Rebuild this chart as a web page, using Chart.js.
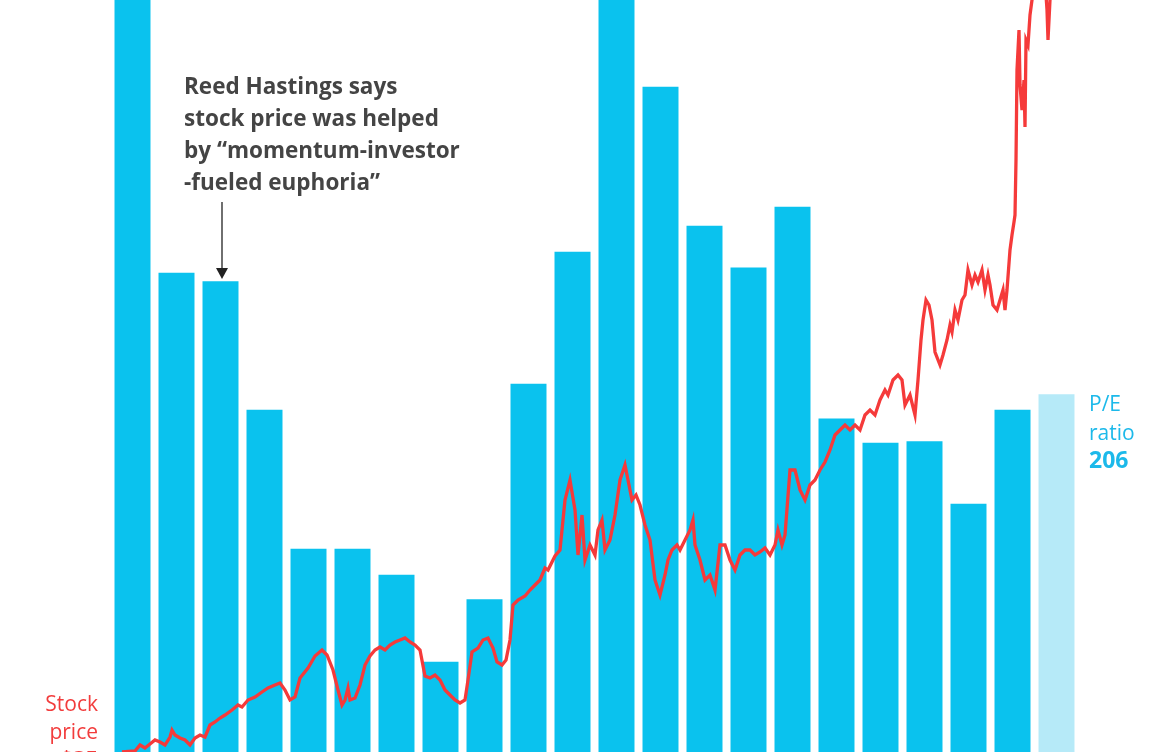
<!DOCTYPE html>
<html><head><meta charset="utf-8">
<script src="https://cdn.jsdelivr.net/npm/chart.js@4"></script>
<style>html,body{margin:0;padding:0;background:#fff;overflow:hidden}#w{width:1170px;height:752px}</style>
</head><body><div id="w"><canvas id="c"></canvas></div>
<script>
const categories = Array.from({length:22},(_,i)=>'P'+(i+1));
const peRatio = [500,276,271,197,117,117,102,52,88,212,288,500,383,303,279,314,192,178,179,143,197,206];
const priceDay = [12,25,30,35,40,45,50,55,60,62,65,70,75,80,85,90,95,100,105,110,115,122,128,132,138,145,152,158,165,170,175,180,185,190,198,205,212,217,223,228,232,235,238,240,245,250,255,260,265,270,275,280,285,290,295,300,305,310,315,320,325,330,335,340,345,350,355,358,362,368,373,378,383,387,392,396,400,403,408,415,420,425,430,435,438,445,450,455,460,465,468,472,475,480,485,488,492,495,500,505,510,515,518,522,526,530,535,540,545,550,555,558,562,567,570,575,580,583,585,590,595,600,605,610,615,620,625,630,635,640,645,650,655,660,665,668,672,675,680,685,690,695,700,705,710,715,720,725,730,735,740,745,750,755,760,765,770,775,778,783,788,792,795,800,805,808,811,813,816,819,822,825,830,833,837,840,842,845,848,852,855,858,862,865,868,872,875,878,880,883,887,890,893,895,897,900,902,904,905,906,907,909,910,912,914,915,916,918,920,922,925,935,937,938,940,942];
const priceVal = [35,35.5,38.5,37,39,41,40,38.5,42.5,46,43.5,42,41,38.5,42,43.5,42.5,48.5,50,52,53.5,56,58.5,57.5,61,62.5,65,67,68.5,69.5,66,61,62.5,72,77,83,86,83.5,76,66,58.5,61,67,61,62,68.5,78.5,83,86,87.5,86,88.5,90,91,92,90,88.5,86,73,72,73.5,71,66,63.5,61,59.5,61,71,85,87,91,92,87,80,78.5,81,91,108.5,111,113,116,118.5,121,127,126,133,136,161,171,156,133.5,153.5,131,138.5,133.5,146,151,136,141,153.5,171,178.5,171,161,163.5,158.5,148.5,141,121,113.5,123.5,131,136,138.5,136,141,146,151,138.5,131,121,123.5,116,138.5,138.5,131,126,133.5,136,136,133.5,135,137,133.5,138.5,146,138.5,143.5,176,176,166,161,168.5,171,176,180,186,193.5,196,198.5,196,198.5,196,203.5,206,203.5,211,216,213.5,221,223.5,221,208.5,213.5,203.5,221,241,251,261,258.5,251,235,228.5,233.5,241,248.5,245,256,251,261,263.5,276,268.5,273.5,270,276,266,273.5,268.5,258.5,256,261,266,256,266,286,293.5,300,303.5,331,376,396,368.5,356,371,347.5,391,388.5,403.5,411,416,421,406,391,411,416];
const barColors = peRatio.map((v,i)=> i===peRatio.length-1 ? '#b6eaf8' : '#0ac2ee');

const textPlugin = {id:'txt', afterDraw(ch){
  const c=ch.ctx; c.save();
  c.fillStyle='#444'; c.font='bold 22.5px "Open Sans", Roboto, sans-serif'; c.textBaseline='alphabetic'; c.textAlign='left';
  ['Reed Hastings says','stock price was helped','by “momentum-investor','-fueled euphoria”'].forEach((t,i)=>c.fillText(t,184,94+i*32));
  c.strokeStyle='#222'; c.lineWidth=1.3; c.beginPath(); c.moveTo(222,202); c.lineTo(222,276); c.stroke();
  c.fillStyle='#222'; c.beginPath(); c.moveTo(216,268); c.lineTo(228,268); c.lineTo(222,279); c.closePath(); c.fill();
  c.textAlign='right'; c.fillStyle='#f23c3c'; c.font='21px "Open Sans", sans-serif';
  c.fillText('Stock',98,711); c.fillText('price',98,739);
  c.font='bold 22px "Open Sans", sans-serif'; c.fillText('$35',98,766);
  c.textAlign='left'; c.fillStyle='#1cb9ea'; c.font='21px "Open Sans", sans-serif';
  c.fillText('P/E',1089,411); c.fillText('ratio',1089,440);
  c.font='bold 23px "Open Sans", sans-serif'; c.fillText('206',1089,468);
  c.restore();
}};

new Chart(document.getElementById('c'),{
  data:{labels:categories,datasets:[
    {type:'line',data:priceDay.map((d,i)=>({x:d,y:priceVal[i]})),xAxisID:'x2',yAxisID:'y2',borderColor:'#f53a3a',borderWidth:3.3,pointRadius:0,tension:0,order:0},
    {type:'bar',data:peRatio,backgroundColor:barColors,grouped:false,categoryPercentage:1,barPercentage:0.818,xAxisID:'x',yAxisID:'y',order:1}
  ]},
  options:{responsive:true,maintainAspectRatio:false,animation:false,
    layout:{padding:{left:110.5,right:91.5,top:0,bottom:0}},
    plugins:{legend:{display:false},tooltip:{enabled:false}},
    scales:{
      x:{display:false,offset:true},
      x2:{type:'linear',display:false,min:0.5,max:968.5},
      y:{display:false,min:0,max:433},
      y2:{display:false,min:35,max:411}
    }},
  plugins:[textPlugin]
});
</script></body></html>
